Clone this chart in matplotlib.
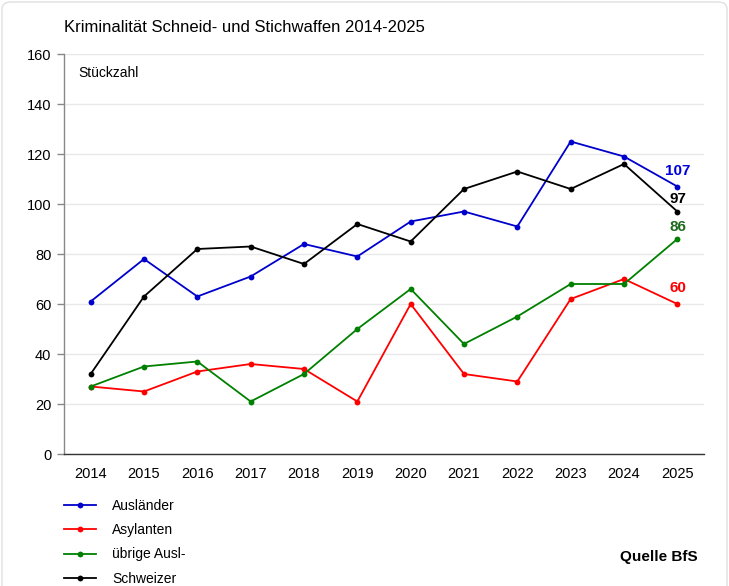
import matplotlib
matplotlib.use("Agg")
import matplotlib.pyplot as plt
from matplotlib.patches import FancyBboxPatch

plt.rcParams['font.family'] = ['Liberation Sans', 'DejaVu Sans']

years = [2014, 2015, 2016, 2017, 2018, 2019, 2020, 2021, 2022, 2023, 2024, 2025]
auslaender = [61, 78, 63, 71, 84, 79, 93, 97, 91, 125, 119, 107]
asylanten = [27, 25, 33, 36, 34, 21, 60, 32, 29, 62, 70, 60]
uebrige = [27, 35, 37, 21, 32, 50, 66, 44, 55, 68, 68, 86]
schweizer = [32, 63, 82, 83, 76, 92, 85, 106, 113, 106, 116, 97]

series = [
    ("Ausländer", auslaender, "#0000cc", "#0000dd", 11.2),
    ("Asylanten", asylanten, "#ff0000", "#ff0000", 11.7),
    ("übrige Ausl-", uebrige, "#008000", "#1e6b1e", 8.4),
    ("Schweizer", schweizer, "#000000", "#000000", 8.9),
]

W, H = 729, 586
fig = plt.figure(figsize=(W / 100, H / 100), dpi=100)
fig.patch.set_facecolor('white')
card = FancyBboxPatch((2 / W, -20 / H), (W - 4) / W, (H + 18) / H,
                      boxstyle="round,pad=0,rounding_size=0.012",
                      transform=fig.transFigure, facecolor='white',
                      edgecolor='#e0e0e0', linewidth=1.0, zorder=-5)
fig.patches.append(card)

ax = fig.add_axes([64 / W, (H - 454) / H, (704 - 64) / W, (454 - 54) / H])
ax.set_facecolor('none')

handles = []
for name, vals, col, lcol, off in series:
    h, = ax.plot(years, vals, color=col, lw=1.3, marker='o', ms=4.2,
                 markeredgewidth=0, label=name, zorder=3)
    handles.append(h)
    ax.annotate(str(vals[-1]), (years[-1], vals[-1]), xytext=(0.5, off),
                textcoords='offset points', color=lcol, fontsize=11,
                fontweight='bold', ha='center', va='center', zorder=4)

ax.set_xlim(2013.5, 2025.5)
ax.set_ylim(0, 160)
ax.set_yticks(range(0, 161, 20))
ax.set_xticks(years)
ax.set_xticklabels([str(y) for y in years])
ax.grid(axis='y', color='#e8e8e8', lw=1.0, zorder=0)
ax.set_axisbelow(True)

for s in ['top', 'right']:
    ax.spines[s].set_visible(False)
ax.spines['left'].set_color('#888888')
ax.spines['left'].set_linewidth(1.0)
ax.spines['bottom'].set_color('#333333')
ax.spines['bottom'].set_linewidth(1.0)
ax.tick_params(axis='y', length=5, width=1.0, color='#888888', labelsize=10.5, pad=4)
ax.tick_params(axis='x', length=0, labelsize=10.5, pad=9)

fig.text(78 / W, 1 - 73 / H, "Stückzahl", fontsize=10, va='center', ha='left')
fig.text(64 / W, 1 - 27 / H, "Kriminalität Schneid- und Stichwaffen 2014-2025",
         fontsize=12, va='center', ha='left')
fig.text(698 / W, 1 - 557 / H, "Quelle BfS", fontsize=11, fontweight='bold',
         ha='right', va='center')

leg = fig.legend(handles=handles, loc='upper left',
                 bbox_to_anchor=(58 / W, 1 - 493 / H), frameon=False,
                 fontsize=10, handlelength=2.3, handletextpad=1.2,
                 labelspacing=0.75, borderaxespad=0)

fig.savefig("out.png", dpi=100)
